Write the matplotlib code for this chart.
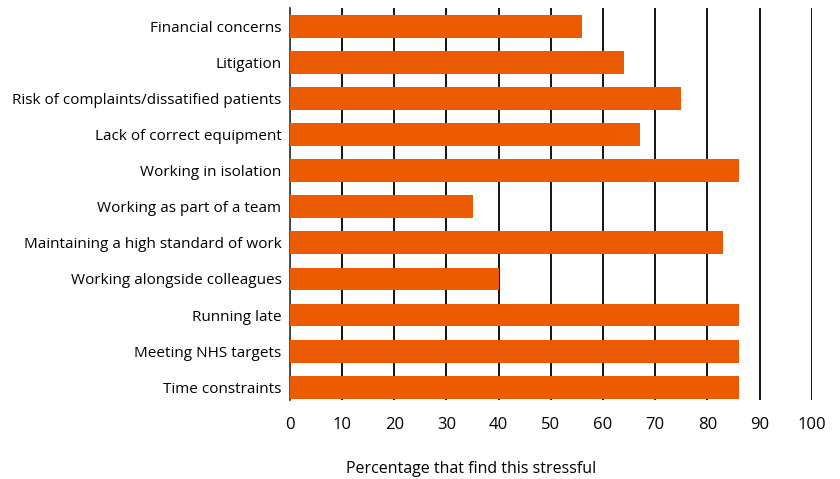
import numpy as np
import matplotlib.pyplot as plt

plt.rcParams['font.family'] = ['Open Sans', 'DejaVu Sans']

categories = ["Financial concerns", "Litigation", "Risk of complaints/dissatified patients",
              "Lack of correct equipment", "Working in isolation", "Working as part of a team",
              "Maintaining a high standard of work", "Working alongside colleagues",
              "Running late", "Meeting NHS targets", "Time constraints"]
values = [56, 64, 75, 67, 86, 35, 83, 40, 86, 86, 86]
xticks = [0, 10, 20, 30, 40, 50, 60, 70, 80, 90, 100]

fig = plt.figure(figsize=(8.4, 4.79), dpi=100)
ax = fig.add_axes([0.345, 0.165, 0.6215, 0.818])

y = np.arange(len(categories))
ax.barh(y, values, height=0.63, color='#EA5B02', zorder=3)

ax.set_xlim(0, 100)
ax.set_ylim(len(categories) - 1 + 0.35, -0.5)
ax.set_xticks(xticks)
ax.set_yticks(y)
ax.set_yticklabels(categories, fontsize=11)
ax.tick_params(axis='x', length=0, pad=12, labelsize=12)
ax.tick_params(axis='y', length=0, pad=6)
ax.grid(axis='x', color='black', linewidth=1.3, zorder=0)
ax.grid(axis='y', visible=False)

for s in ['top', 'right', 'bottom']:
    ax.spines[s].set_visible(False)
ax.spines['left'].set_color('#444444')
ax.spines['left'].set_linewidth(1.3)

ax.set_xlabel("Percentage that find this stressful", fontsize=11.5, labelpad=20)
ax.xaxis.set_label_coords(0.347, -0.155)

plt.savefig("out.png", dpi=100)
